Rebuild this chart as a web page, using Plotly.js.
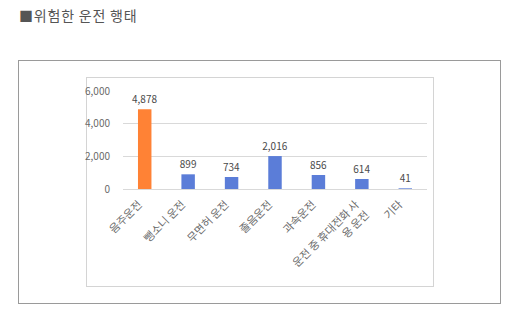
<!DOCTYPE html>
<html><head><meta charset="utf-8">
<script src="https://cdn.plot.ly/plotly-3.0.1.min.js"></script>
<style>
body{margin:0;padding:0;background:#fff;width:512px;height:322px;overflow:hidden;position:relative;font-family:"Noto Sans CJK KR",sans-serif;}
#title{position:absolute;left:19px;top:5px;font-size:14px;color:#555;letter-spacing:0.8px;font-family:"Noto Sans CJK KR",serif;}
#outer{position:absolute;left:18px;top:60px;width:481px;height:242px;border:1px solid #9a9a9a;}
#inner{position:absolute;left:86px;top:77px;width:346px;height:208px;border:1px solid #d4d4d4;}
#chart{position:absolute;left:0;top:0;width:512px;height:322px;}
</style></head>
<body>
<div id="title">■위험한 운전 행태</div>
<div id="outer"></div>
<div id="inner"></div>
<div id="chart"></div>
<script>
const categories = ["음주운전","뺑소니 운전","무면허 운전","졸음운전","과속운전","운전 중 휴대전화 사<br>용 운전","기타"];
const values = [4878, 899, 734, 2016, 856, 614, 41];
const barColors = ["#FF8235","#5B7DD8","#5B7DD8","#5B7DD8","#5B7DD8","#5B7DD8","#5B7DD8"];
const yTicks = [0, 2000, 4000, 6000];
const yTickText = ["0","2,000","4,000","6,000"];

Plotly.newPlot("chart", [{
  type: "bar",
  x: categories,
  y: values,
  marker: {color: barColors},
  texttemplate: "%{y:,}",
  textposition: "outside",
  constraintext: "none",
  outsidetextfont: {size: 10, color: "#4a4a4a", family: "Noto Sans CJK KR"},
  textfont: {size: 10, color: "#4a4a4a", family: "Noto Sans CJK KR"},
  cliponaxis: false,
  hoverinfo: "none"
}], {
  width: 512, height: 322,
  margin: {l: 123, r: 85, t: 91, b: 133},
  paper_bgcolor: "rgba(0,0,0,0)",
  plot_bgcolor: "rgba(0,0,0,0)",
  bargap: 0.69,
  showlegend: false,
  font: {family: "Noto Sans CJK KR", color: "#6a6a6a", size: 10},
  xaxis: {
    tickangle: -45,
    showgrid: false,
    showline: false,
    zeroline: false,
    ticks: "",
    ticklabelstandoff: 6,
    ticklabelshift: -6,
    tickfont: {size: 11, color: "#6a6a6a"}
  },
  yaxis: {
    range: [0, 6000],
    tickvals: yTicks,
    ticktext: yTickText,
    gridcolor: "#d9d9d9",
    gridwidth: 1,
    zeroline: true,
    zerolinecolor: "#d9d9d9",
    zerolinewidth: 1,
    showline: false,
    ticks: "",
    ticklabelstandoff: 12,
    tickfont: {size: 10, color: "#6a6a6a"}
  }
}, {staticPlot: true, displayModeBar: false});
</script>
</body></html>
